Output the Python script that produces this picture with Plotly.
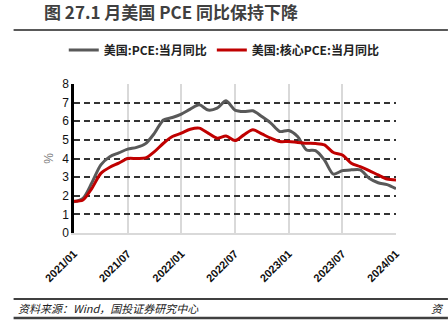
import plotly.graph_objects as go

months = [f"{2021 + i // 12}/{i % 12 + 1:02d}" for i in range(37)]
pce = [1.68, 1.86, 2.7, 3.66, 4.1, 4.3, 4.5, 4.6, 4.8, 5.36, 6.07, 6.2, 6.38, 6.65, 6.88,
       6.6, 6.7, 7.1, 6.6, 6.52, 6.56, 6.25, 5.9, 5.45, 5.5, 5.18, 4.46, 4.42, 3.92, 3.16,
       3.35, 3.39, 3.39, 2.94, 2.7, 2.6, 2.38]
core = [1.7, 1.77, 2.4, 3.2, 3.53, 3.75, 4.0, 4.0, 4.03, 4.37, 4.82, 5.18, 5.36, 5.57, 5.63,
        5.36, 5.09, 5.21, 4.96, 5.27, 5.54, 5.32, 5.09, 4.91, 4.91, 4.86, 4.82, 4.8, 4.73, 4.32,
        4.19, 3.75, 3.56, 3.35, 3.12, 2.9, 2.85]
tick_labels = ["2021/01", "2021/07", "2022/01", "2022/07", "2023/01", "2023/07", "2024/01"]

W, H = 448, 334
L, R, T, B = 73.5, 396, 84, 233

def px(x):
    return (x - L) / (R - L)

def py(y):
    return (B - y) / (B - T)

fig = go.Figure()
fig.add_trace(go.Scatter(x=months, y=pce, mode="lines", name="<b>美国:PCE:当月同比</b>",
                         line=dict(color="#595959", width=3, shape="spline", smoothing=0.8)))
fig.add_trace(go.Scatter(x=months, y=core, mode="lines", name="<b>美国:核心PCE:当月同比</b>",
                         line=dict(color="#c00000", width=3, shape="spline", smoothing=0.8)))

cjk = "Noto Sans CJK SC"
fig.update_layout(
    width=W, height=H,
    margin=dict(l=L, r=W - R, t=T, b=H - B, pad=0),
    paper_bgcolor="white", plot_bgcolor="white",
    title=dict(text="<b>图 27.1 月美国 PCE 同比保持下降</b>", xref="container", yref="container",
               x=44 / W, y=1 - 13 / H, xanchor="left", yanchor="middle",
               font=dict(family=cjk, size=17, color="#404040")),
    legend=dict(orientation="h", x=px(224), xanchor="center", y=py(50), yanchor="middle",
                font=dict(family=cjk, size=12, color="#222"), bgcolor="rgba(0,0,0,0)",
                itemwidth=30, tracegroupgap=0),
    xaxis=dict(type="category", range=[0, 36], tickmode="array",
               tickvals=tick_labels, ticktext=[f"<b>{t}</b>" for t in tick_labels],
               tickangle=-45, tickfont=dict(family="Liberation Sans", size=11, color="#111"),
               ticklabelstandoff=8,
               showgrid=True, gridcolor="#d9d9d9", gridwidth=1.5,
               showline=True, linecolor="#d9d9d9", linewidth=2, ticks="", zeroline=False),
    yaxis=dict(range=[0, 8], tickmode="array", tickvals=list(range(9)),
               tickfont=dict(family="Liberation Sans", size=12, color="#111"),
               showgrid=True, gridcolor="#333333", gridwidth=1.5, griddash="6px,4px",
               showline=True, linecolor="#000", linewidth=2.5, ticks="",
               zeroline=True, zerolinecolor="#d9d9d9", zerolinewidth=2,
               title=dict(text="%", standoff=6, font=dict(family="Liberation Sans", size=12, color="#808080"))),
    showlegend=True,
)

# title underline and footer lines
for yy, col, wd in [(30, "#595959", 2), (299, "#404040", 2), (318, "#404040", 2.5)]:
    fig.add_shape(type="line", xref="paper", yref="paper", x0=px(13), x1=px(448), y0=py(yy), y1=py(yy),
                  line=dict(color=col, width=wd))

fig.add_annotation(text="<i>资料来源：Wind，国投证券研究中心</i>", xref="paper", yref="paper",
                   x=px(15), y=py(308), xanchor="left", yanchor="middle", showarrow=False,
                   font=dict(family=cjk, size=11, color="#222"))
fig.add_annotation(text="<i>资</i>", xref="paper", yref="paper",
                   x=px(446), y=py(308), xanchor="right", yanchor="middle", showarrow=False,
                   font=dict(family=cjk, size=11, color="#222"))

fig.write_html("out.html")
